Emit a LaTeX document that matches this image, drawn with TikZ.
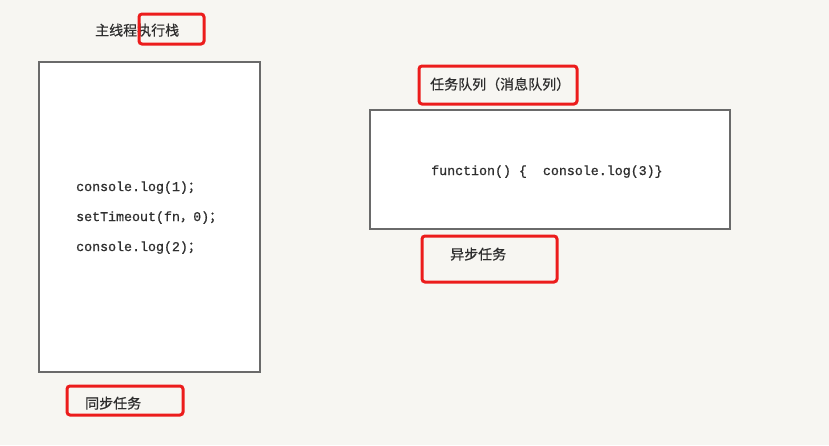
\documentclass[tikz,border=0pt]{standalone}
\usepackage{fontspec}
\newfontfamily\codefont[FakeBold=0.8]{Liberation Mono}
\newfontfamily\cjk[FakeBold=0.6]{Noto Sans CJK SC}
\definecolor{bgcol}{HTML}{F7F6F2}
\definecolor{boxgray}{HTML}{6A6A6A}
\definecolor{markred}{HTML}{EC1C1C}
\definecolor{txt}{HTML}{2E2E2E}
\tikzset{
  panel/.style={draw=boxgray, line width=1.2pt, fill=white},
  redmark/.style={draw=markred, line width=3pt, rounded corners=3pt},
  code/.style={anchor=base west, inner sep=0pt, text=txt, font=\codefont\fontsize{13.3}{15}\selectfont},
  cjklabel/.style={anchor=base west, inner sep=0pt, text=txt, font=\cjk\fontsize{14}{16}\selectfont},
}
\begin{document}
\begin{tikzpicture}[x=1pt,y=-1pt]
\fill[bgcol] (0,0) rectangle (829,445);
\useasboundingbox (0,0) rectangle (829,445);
% panels
\draw[panel] (39,62) rectangle (260,372);
\draw[panel] (370,110) rectangle (730,229);
% labels
\node[cjklabel] (stack) at (95,35.5) {主线程执行栈};
\node[cjklabel] (queue) at (430,89.5) {任务队列（消息队列）};
\node[cjklabel] (async) at (450,259.5) {异步任务};
\node[cjklabel] (sync) at (85,408.5) {同步任务};
% code
\node[code] (c1) at (76,191) {console.log(1){\cjk；}};
\node[code] (c2) at (76,221) {setTimeout(fn{\cjk，}0){\cjk；}};
\node[code] (c3) at (76,251) {console.log(2){\cjk；}};
\node[code] (c4) at (431,175) {function()\ \{\ \ console.log(3)\}};
% red marks
\draw[redmark] (139,14) rectangle (204,44);
\draw[redmark] (419,66) rectangle (577,104);
\draw[redmark] (422,236) rectangle (557,282);
\draw[redmark] (67,386) rectangle (183,415);
\end{tikzpicture}
\end{document}
